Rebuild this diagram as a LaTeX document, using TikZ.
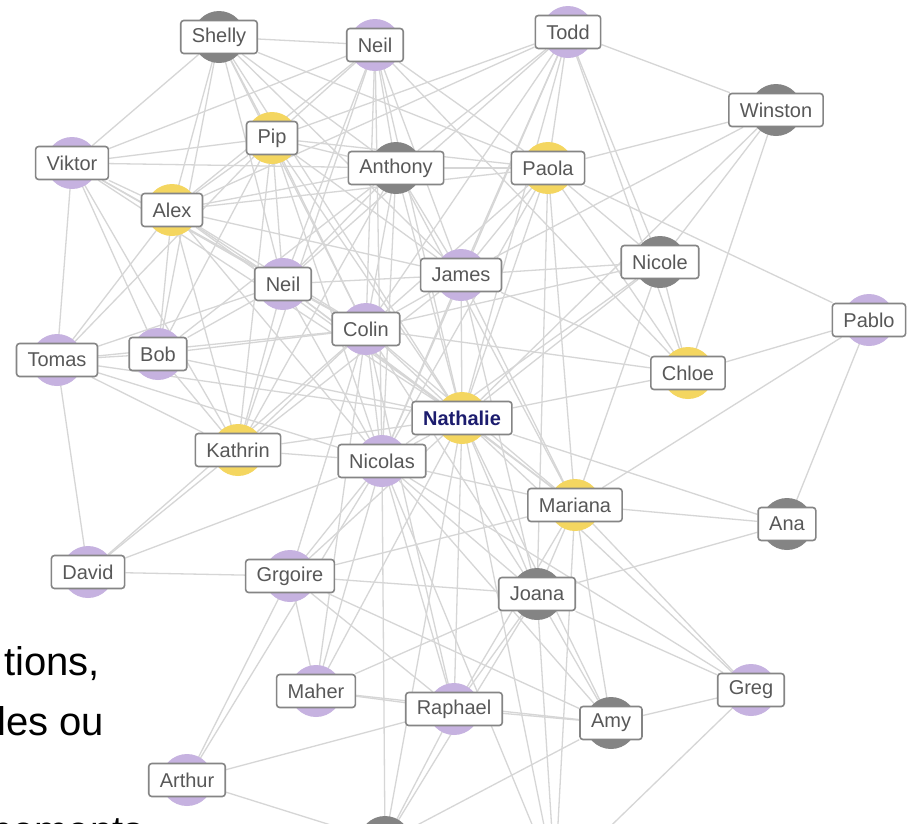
\documentclass[tikz,border=0pt]{standalone}
\usepackage{fontspec}
\setmainfont{Liberation Sans}
\definecolor{lav}{RGB}{198,178,224}
\definecolor{gold}{RGB}{244,214,96}
\definecolor{slate}{RGB}{132,132,132}
\definecolor{ink}{RGB}{88,88,88}
\definecolor{navy}{RGB}{28,28,110}
\pgfdeclarelayer{paper}
\pgfdeclarelayer{edges}
\pgfdeclarelayer{discs}
\pgfsetlayers{paper,edges,discs,main}
\tikzset{
  lbl/.style={draw=black!48, line width=1.6pt, rounded corners=3pt, fill=white,
    text=ink, font=\fontsize{20}{22}\selectfont, minimum height=33pt,
    inner xsep=11pt, inner ysep=0pt},
  hub/.style={lbl, text=navy, font=\fontsize{20}{22}\selectfont\bfseries},
  link/.style={draw=black!16, line width=1.3pt},
  slide/.style={anchor=base west, inner sep=0pt, text=black,
    font=\fontsize{40}{44}\selectfont}
}
\begin{document}
\begin{tikzpicture}[x=1pt, y=-1pt]
\useasboundingbox (0,0) rectangle (911,823);
\begin{pgfonlayer}{paper}
  \fill[white] (0,0) rectangle (911,823);
\end{pgfonlayer}

% people: name / x / y / disc colour / label
\foreach \n/\px/\py/\c/\t in {
  shelly/219/37/slate/Shelly, neilA/375/45/lav/Neil, todd/568/32/lav/Todd,
  winston/776/110/slate/Winston, pip/272/138/gold/Pip, viktor/72/163/lav/Viktor,
  anthony/396/168/slate/Anthony, paola/548/168/gold/Paola, alex/172/210/gold/Alex,
  neilB/283/284/lav/Neil, james/461/275/lav/James, nicole/660/262/slate/Nicole,
  pablo/869/320/lav/Pablo, colin/366/329/lav/Colin, tomas/57/360/lav/Tomas,
  bob/158/354/lav/Bob, chloe/688/373/gold/Chloe, kathrin/238/450/gold/Kathrin,
  nicolas/382/461/lav/Nicolas, mariana/575/505/gold/Mariana, ana/787/524/slate/Ana,
  david/88/572/lav/David, gregoire/290/576/lav/Grgoire, joana/537/594/slate/Joana,
  maher/316/691/lav/Maher, raphael/454/709/lav/Raphael, amy/611/723/slate/Amy,
  greg/751/690/lav/Greg, arthur/187/780/lav/Arthur}
{
  \node[lbl] (\n) at (\px,\py) {\t};
  \begin{pgfonlayer}{discs}
    \fill[\c] (\px,\py) circle[radius=26pt];
  \end{pgfonlayer}
}
\node[hub] (nathalie) at (462,418) {Nathalie};
\begin{pgfonlayer}{discs}
  \fill[gold] (462,418) circle[radius=26pt];
  \fill[slate] (385,842) circle[radius=26pt];
\end{pgfonlayer}
\coordinate (bot) at (385,842);
\coordinate (below) at (555,880);

% friendships
\begin{pgfonlayer}{edges}
\foreach \a/\b in {
  shelly/neilA, shelly/alex, shelly/bob, shelly/pip, shelly/anthony, shelly/colin,
  shelly/james, shelly/nathalie, shelly/neilB, shelly/paola, shelly/viktor,
  neilA/pip, neilA/anthony, neilA/alex, neilA/colin, neilA/james, neilA/nathalie,
  neilA/nicolas, neilA/paola, neilA/kathrin, neilA/neilB, neilA/viktor, neilA/chloe,
  todd/winston, todd/paola, todd/nicole, todd/chloe, todd/james, todd/colin,
  todd/nathalie, todd/anthony, todd/pip, todd/alex, todd/nicolas, todd/neilB,
  winston/paola, winston/nicole, winston/james, winston/nathalie, winston/chloe,
  viktor/alex, viktor/tomas, viktor/bob, viktor/kathrin, viktor/pip, viktor/neilB,
  viktor/anthony, viktor/colin, viktor/nathalie,
  alex/pip, alex/anthony, alex/tomas, alex/bob, alex/neilB, alex/colin,
  alex/nathalie, alex/nicolas, alex/kathrin, alex/james, alex/paola,
  tomas/bob, tomas/david, tomas/kathrin, tomas/nicolas, tomas/nathalie,
  tomas/colin, tomas/pip, tomas/neilB,
  bob/kathrin, bob/neilB, bob/colin, bob/nathalie, bob/pip, bob/anthony,
  david/gregoire, david/kathrin, david/nicolas, david/colin,
  kathrin/nicolas, kathrin/pip, kathrin/colin, kathrin/neilB, kathrin/anthony,
  kathrin/james, kathrin/nathalie,
  gregoire/arthur, gregoire/nicolas, gregoire/colin, gregoire/nathalie,
  gregoire/joana, gregoire/mariana, gregoire/maher, gregoire/raphael, gregoire/amy,
  arthur/raphael, arthur/bot, arthur/nicolas,
  maher/raphael, maher/nicolas, maher/colin, maher/nathalie, maher/amy, maher/joana,
  neilB/colin, neilB/nathalie, neilB/nicolas, neilB/pip, neilB/anthony,
  neilB/james, neilB/mariana,
  colin/nathalie, colin/nicolas, colin/james, colin/anthony, colin/pip,
  colin/paola, colin/nicole, colin/chloe, colin/mariana, colin/joana, colin/raphael,
  james/nathalie, james/paola, james/nicole, james/chloe, james/anthony,
  james/pip, james/nicolas, james/joana, james/mariana,
  nathalie/chloe, nathalie/nicole, nathalie/mariana, nathalie/ana, nathalie/joana,
  nathalie/amy, nathalie/greg, nathalie/raphael, nathalie/nicolas, nathalie/paola,
  nathalie/anthony, nathalie/pip, nathalie/below, nathalie/bot,
  nicolas/mariana, nicolas/joana, nicolas/amy, nicolas/raphael, nicolas/greg,
  nicolas/bot, nicolas/below, nicolas/pip, nicolas/anthony, nicolas/paola,
  anthony/pip, anthony/paola, anthony/mariana,
  paola/pablo, paola/nicole, paola/chloe, paola/pip, paola/mariana, paola/joana,
  nicole/chloe, nicole/mariana, nicole/nicolas,
  chloe/pablo,
  mariana/ana, mariana/pablo, mariana/joana, mariana/amy, mariana/greg,
  mariana/raphael, mariana/below,
  ana/pablo, ana/joana,
  joana/amy, joana/greg, joana/raphael, joana/bot, joana/below,
  amy/raphael, amy/greg, amy/bot,
  greg/below, raphael/bot}
  \draw[link] (\a) -- (\b);
\end{pgfonlayer}

% slide text running under the network
\node[slide] (lineA) at (4,675) {tions,};
\node[slide] (lineB) at (-3,735) {les ou};
\node[slide] (lineC) at (-10,844) {nements};
\end{tikzpicture}
\end{document}
